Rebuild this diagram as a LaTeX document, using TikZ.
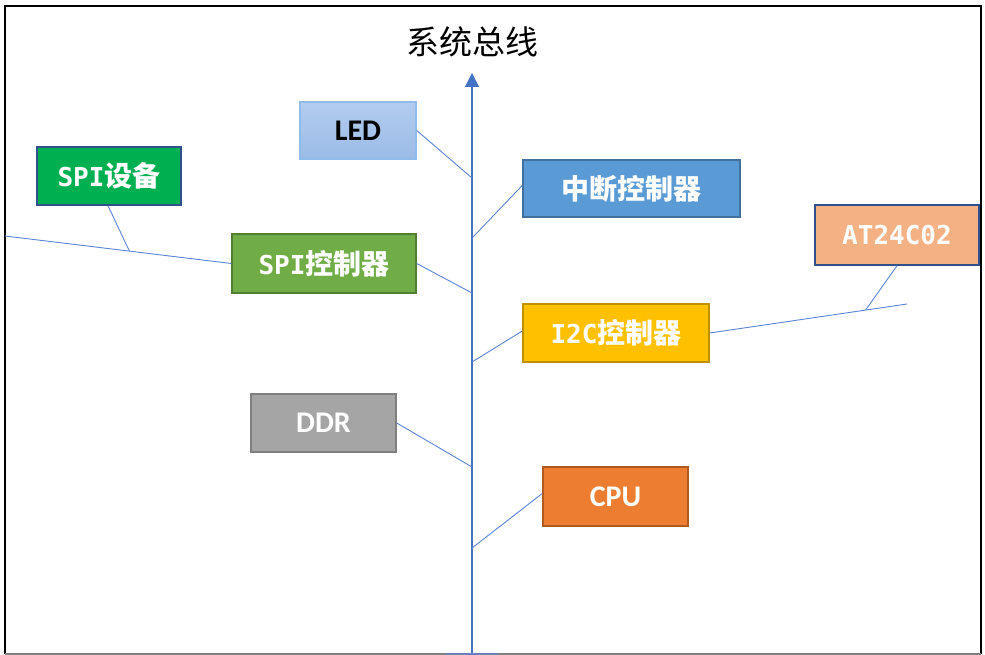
\documentclass[tikz,border=0pt]{standalone}
\usepackage{fontspec}
\setmainfont{Carlito}
\newfontfamily\cjk{Noto Sans CJK SC}
\newfontfamily\monof{DejaVu Sans Mono}
\usetikzlibrary{calc,arrows.meta}
\definecolor{busblue}{HTML}{4472C4}
\definecolor{linkblue}{HTML}{5B84D6}
\definecolor{darkbord}{HTML}{2F528F}
\definecolor{ledtop}{HTML}{B3CCEF}
\definecolor{ledbot}{HTML}{9BBBE6}
\definecolor{ledbord}{HTML}{8FBCEB}
\tikzset{
  box/.style={draw, line width=1.5pt, inner sep=0pt, minimum height=57pt, text=white,
    font=\fontsize{30}{34}\selectfont\bfseries},
  link/.style={draw=linkblue, line width=0.9pt},
}
\begin{document}
\begin{tikzpicture}[x=1pt,y=-1pt]
\useasboundingbox (0,0) rectangle (985,655);
% frame
\draw[black, line width=2pt] (5,654) -- (5,6) -- (981,6) -- (981,654);
\draw[gray, line width=1.5pt] (5,654) -- (981,654);
% title
\node[font=\cjk\fontsize{33}{36}\selectfont] (title) at (472,42) {系统总线};
% bus
\coordinate (busB) at (472,654);
\coordinate (busT) at (472,73);
\draw[busblue, line width=1.2pt, -{Triangle[width=14pt,length=14pt]}] (busB) -- (busT);
\coordinate (stubL) at (445,654);
\coordinate (stubR) at (499,654);
\draw[color=linkblue!70!gray, line width=1.5pt] (stubL) -- (stubR);
% boxes
\node[box, minimum width=116pt, draw=ledbord, top color=ledtop, bottom color=ledbot, text=black] (led) at (358,130.5) {LED};
\node[box, minimum width=217pt, minimum height=57pt, fill={rgb,255:red,91;green,155;blue,213}, draw={rgb,255:red,65;green,113;blue,156},
  font=\cjk\fontsize{28}{32}\selectfont\bfseries] (int) at (631.5,188.5) {中断控制器};
\node[box, minimum width=184pt, minimum height=59pt, fill={rgb,255:red,112;green,173;blue,71}, draw={rgb,255:red,80;green,126;blue,50},
  font=\fontsize{26}{30}\selectfont\bfseries] (spic) at (324,263.5) {{\monof SPI}{\cjk\fontsize{28}{32}\selectfont 控制器}};
\node[box, minimum width=144pt, minimum height=58pt, fill={rgb,255:red,0;green,176;blue,80}, draw=darkbord,
  font=\fontsize{26}{30}\selectfont\bfseries] (spid) at (109,176) {{\monof SPI}{\cjk\fontsize{28}{32}\selectfont 设备}};
\node[box, minimum width=186pt, minimum height=58pt, fill={rgb,255:red,255;green,192;blue,0}, draw={rgb,255:red,191;green,144;blue,0},
  font=\fontsize{26}{30}\selectfont\bfseries] (i2c) at (616,333) {{\monof I2C}{\cjk\fontsize{28}{32}\selectfont 控制器}};
\node[box, minimum width=164pt, minimum height=60pt, fill={rgb,255:red,244;green,177;blue,131}, draw=darkbord,
  font=\monof\fontsize{26}{30}\selectfont\bfseries] (at) at (897,235) {AT24C02};
\node[box, minimum width=145pt, minimum height=58pt, fill={rgb,255:red,165;green,165;blue,165}, draw={rgb,255:red,127;green,127;blue,127}] (ddr) at (323.5,423) {DDR};
\node[box, minimum width=145pt, minimum height=59pt, fill={rgb,255:red,237;green,125;blue,49}, draw={rgb,255:red,174;green,90;blue,33}] (cpu) at (615.5,496.5) {CPU};
% bus junctions
\coordinate (j1) at (472,178);
\coordinate (j2) at (472,238);
\coordinate (j3) at (472,293);
\coordinate (j4) at (472,362);
\coordinate (j5) at (472,467);
\coordinate (j6) at (472,548);
\draw[link] (led.east) -- (j1);
\draw[link] (j2) -- ([yshift=3pt]int.west);
\draw[link] (spic.east) -- (j3);
\draw[link] (j4) -- ([yshift=2pt]i2c.west);
\draw[link] (ddr.east) -- (j5);
\draw[link] (j6) -- ([yshift=3pt]cpu.west);
% SPI bus
\coordinate (spiL) at (5,236);
\coordinate (spiJ) at ($(spiL)!0.55!(spic.west)$);
\draw[link] (spiL) -- (spic.west);
\draw[link] ([xshift=-1pt]spid.south) -- (spiJ);
% I2C bus
\coordinate (i2cR) at (907,304);
\coordinate (i2cJ) at ($(i2c.east)!0.79!(i2cR)$);
\draw[link] (i2c.east) -- (i2cR);
\draw[link] (at.south) -- (i2cJ);
\end{tikzpicture}
\end{document}
